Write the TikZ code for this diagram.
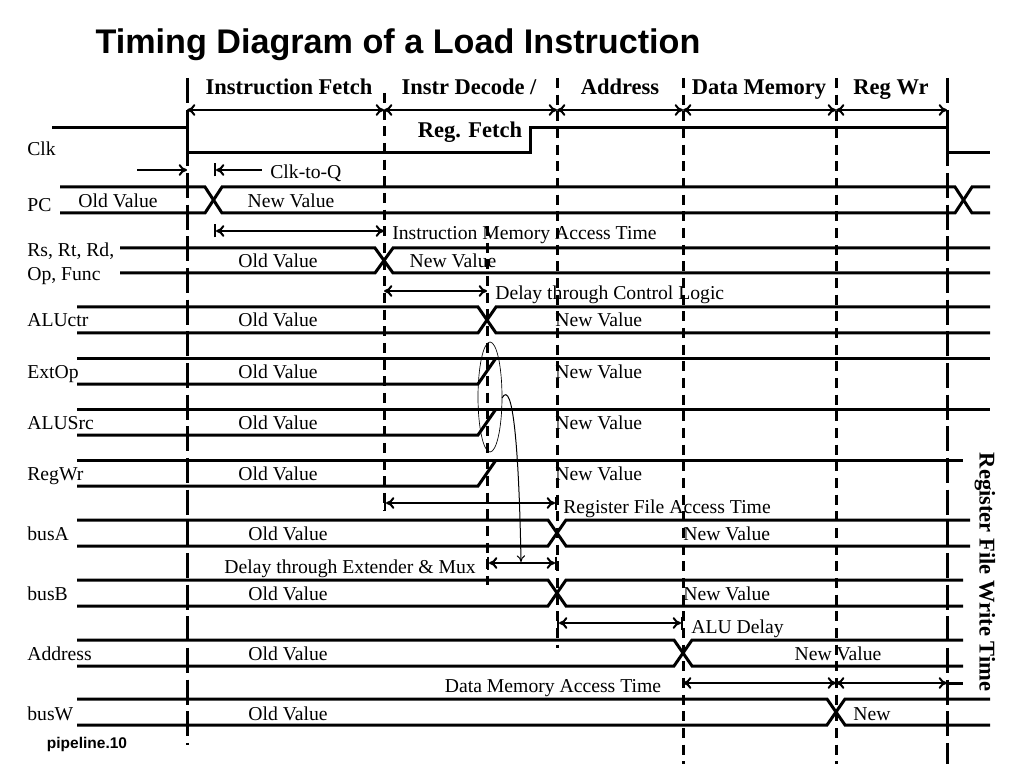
\documentclass[tikz,border=0pt]{standalone}
\usepackage{fontspec}
\setmainfont{Liberation Serif}
\setsansfont{Liberation Sans}
\usetikzlibrary{arrows.meta}
\tikzset{
    sig/.style={line width=1.8pt},
    cut/.style={line width=1.8pt, dash pattern=on 6pt off 4pt},
    edge/.style={line width=1.8pt, dash pattern=on 15pt off 4pt},
    span/.style={line width=1.2pt, >={To[length=5pt,width=7pt]}},
    txt/.style={inner sep=0pt, anchor=base, font=\fontsize{11.8}{13}\selectfont},
    lbl/.style={txt, anchor=base west},
    head/.style={inner sep=0pt, anchor=base, font=\fontsize{13.5}{15}\selectfont\bfseries},
}

\begin{document}
\begin{tikzpicture}[x=0.6pt,y=-0.6pt]
\useasboundingbox (0,0) rectangle (1024,768);
\node[inner sep=0pt, font=\fontsize{20.5}{24}\selectfont\sffamily\bfseries] (title) at (398,45) {Timing Diagram of a Load Instruction};
% stage borders
\draw[edge] (187,78) -- (187,745);
\draw[cut] (384,93) -- (384,510);
\draw[cut] (487,226) -- (487,585);
\draw[cut] (557,78) -- (557,648);
\draw[cut] (683,78) -- (683,764);
\draw[cut] (836,78) -- (836,764);
\draw[edge] (947,78) -- (947,764);
% stages
\node[head] (ifetch) at (289,95) {Instruction Fetch};
\node[head] (idec) at (469,95) {Instr Decode /};
\node[head] (regf) at (470,138) {Reg. Fetch};
\node[head] (addr) at (620,95) {Address};
\node[head] (dmem) at (759,95) {Data Memory};
\node[head] (regwr) at (891,95) {Reg Wr};
\draw[span, <->] (187,110) -- (384,110);
\draw[span, <->] (384,110) -- (557,110);
\draw[span, <->] (557,110) -- (683,110);
\draw[span, <->] (683,110) -- (836,110);
\draw[span, <->] (836,110) -- (947,110);
% clock
\node[lbl] (clk) at (27,156) {Clk};
\draw[sig] (52,128) -- (187,128) -- (187,153) -- (530,153) -- (530,128) -- (947,128) -- (947,153) -- (990,153);
\draw[span, ->] (137,170) -- (187,170);
\draw[span, |<-] (214,170) -- (262,170);
\node[lbl] (clkq) at (270,179) {Clk-to-Q};
% PC
\node[lbl] (pc) at (27,212) {PC};
\draw[sig] (60,187) -- (205,187) -- (222,213) -- (955,213) -- (972,187) -- (990,187);
\draw[sig] (60,213) -- (205,213) -- (222,187) -- (955,187) -- (972,213) -- (990,213);
\node[txt] (pcold) at (118,208) {Old Value};
\node[txt] (pcnew) at (291,208) {New Value};
\draw[span, |<->] (214,231) -- (384,231);
\node[lbl] (imem) at (392,240) {Instruction Memory Access Time};
% instruction fields
\node[lbl] (rs) at (27,257) {Rs, Rt, Rd,};
\node[lbl] (op) at (27,281) {Op, Func};
\draw[sig] (120,248) -- (375,248) -- (393,273) -- (990,273);
\draw[sig] (120,273) -- (375,273) -- (393,248) -- (990,248);
\node[txt] (rsold) at (278,268) {Old Value};
\node[txt] (rsnew) at (453,268) {New Value};
\draw[span, <->] (384,291) -- (487,291);
\node[lbl] (ctrl) at (495,300) {Delay through Control Logic};
% ALUctr
\node[lbl] (aluctr) at (27,327) {ALUctr};
\draw[sig] (77,307) -- (478,307) -- (496,333) -- (990,333);
\draw[sig] (77,333) -- (478,333) -- (496,307) -- (990,307);
\node[txt] (aluctrold) at (278,327) {Old Value};
\node[lbl] (aluctrnew) at (555,327) {New Value};
% ExtOp
\node[lbl] (extop) at (27,378) {ExtOp};
\draw[sig] (77,358) -- (990,358);
\draw[sig] (77,384) -- (478,384) -- (496,358);
\node[txt] (extopold) at (278,378) {Old Value};
\node[lbl] (extopnew) at (555,378) {New Value};
% ALUSrc
\node[lbl] (alusrc) at (27,429) {ALUSrc};
\draw[sig] (77,409) -- (990,409);
\draw[sig] (77,435) -- (478,435) -- (496,409);
\node[txt] (alusrcold) at (278,429) {Old Value};
\node[lbl] (alusrcnew) at (555,429) {New Value};
% RegWr
\node[lbl] (regwrs) at (27,480) {RegWr};
\draw[sig] (77,460) -- (963,460);
\draw[sig] (77,486) -- (478,486) -- (496,460);
\node[txt] (regwrold) at (278,480) {Old Value};
\node[lbl] (regwrnew) at (555,480) {New Value};
\draw (490,397) ellipse (12 and 55);
\draw[line width=0.6pt, -{To[length=4pt,width=5pt]}] (502,398) .. controls (513,378) and (519,450) .. (521,562);
% register file
\draw[span, |<->|] (384,503) -- (557,503);
\node[lbl] (rfat) at (563,513) {Register File Access Time};
\node[lbl] (busa) at (27,540) {busA};
\draw[sig] (77,520) -- (548,520) -- (566,546) -- (970,546);
\draw[sig] (77,546) -- (548,546) -- (566,520) -- (970,520);
\node[txt] (busaold) at (288,540) {Old Value};
\node[lbl] (busanew) at (683,540) {New Value};
\draw[span, |<->|] (487,563) -- (557,563);
\node[txt, anchor=base east] (extmux) at (476,573) {Delay through Extender \& Mux};
\node[lbl] (busb) at (27,600) {busB};
\draw[sig] (77,580) -- (548,580) -- (566,606) -- (963,606);
\draw[sig] (77,606) -- (548,606) -- (566,580) -- (963,580);
\node[txt] (busbold) at (288,600) {Old Value};
\node[lbl] (busbnew) at (683,600) {New Value};
% ALU
\draw[span, |<->|] (557,623) -- (683,623);
\node[lbl] (aludly) at (691,633) {ALU Delay};
\node[lbl] (address) at (27,660) {Address};
\draw[sig] (77,640) -- (674,640) -- (692,666) -- (963,666);
\draw[sig] (77,666) -- (674,666) -- (692,640) -- (963,640);
\node[txt] (addrold) at (288,660) {Old Value};
\node[txt] (addrnew) at (838,660) {New Value};
% data memory
\node[txt] (dmat) at (553,692) {Data Memory Access Time};
\draw[span, <->] (683,683) -- (836,683);
\draw[span, <->] (836,683) -- (947,683);
\draw[sig] (947,683) -- (963,683);
\node[lbl] (busw) at (27,720) {busW};
\draw[sig] (77,699) -- (827,699) -- (845,725) -- (990,725);
\draw[sig] (77,725) -- (827,725) -- (845,699) -- (990,699);
\node[txt] (buswold) at (288,720) {Old Value};
\node[lbl] (buswnew) at (853,720) {New};
\node[inner sep=0pt, font=\fontsize{13.5}{15}\selectfont\bfseries, rotate=-90] (rfwt) at (985,572) {Register File Write Time};
\node[inner sep=0pt, font=\fontsize{9.3}{11}\selectfont\sffamily\bfseries] (page) at (87,744) {pipeline.10};
\end{tikzpicture}
\end{document}
